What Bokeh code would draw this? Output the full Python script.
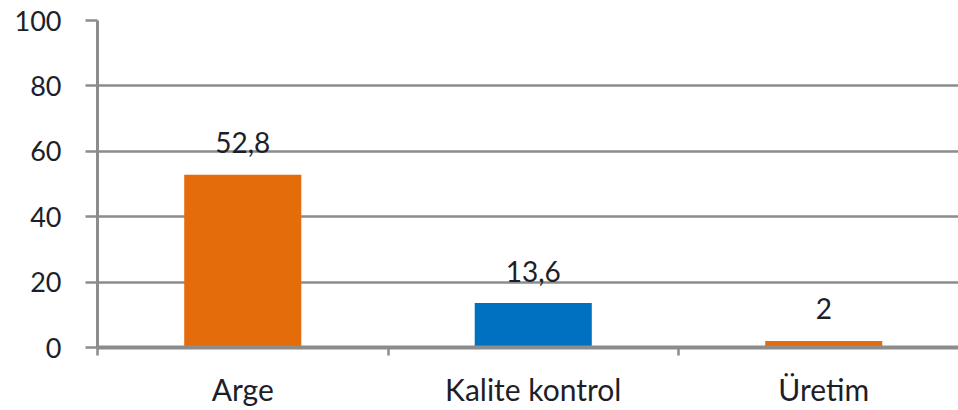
from bokeh.plotting import figure
from bokeh.embed import file_html
from bokeh.resources import INLINE
from bokeh.models import FixedTicker, Range1d
from bokeh.core.properties import value

categories = ["Arge", "Kalite kontrol", "Üretim"]
values = [52.8, 13.6, 2]
colors = ["#E46C0A", "#0070C0", "#E46C0A"]
y_ticks = [0, 20, 40, 60, 80, 100]

FONT = "Lato"
TXT = "#1e1e28"
GRID = "#8c8c8c"

positions = [i + 0.5 for i in range(len(categories))]
labels = [("%g" % v).replace(".", ",") for v in values]

p = figure(
    frame_width=861, frame_height=327,
    min_border_left=97, min_border_right=0, min_border_top=20, min_border_bottom=63,
    x_range=Range1d(0, 861 / 290.5), y_range=Range1d(0, 100),
    output_backend="svg", toolbar_location=None,
)
p.outline_line_color = None
p.background_fill_color = "white"
p.border_fill_color = "white"

p.vbar(x=positions, top=values, width=0.403, color=colors, line_color=None)
p.text(x=positions, y=values, text=labels, text_align="center", text_baseline="alphabetic",
       y_offset=-32, text_font=value(FONT), text_font_size="28px", text_color=TXT)

# y axis
p.yaxis.ticker = FixedTicker(ticks=y_ticks)
p.yaxis.axis_line_color = GRID
p.yaxis.axis_line_width = 3
p.yaxis.major_tick_line_color = GRID
p.yaxis.major_tick_line_width = 2.5
p.yaxis.major_tick_out = 12
p.yaxis.major_tick_in = 0
p.yaxis.minor_tick_line_color = None
p.yaxis.major_label_standoff = 24
p.yaxis.major_label_text_font = FONT
p.yaxis.major_label_text_font_size = "27px"
p.yaxis.major_label_text_color = TXT

# x axis
p.xaxis.ticker = FixedTicker(ticks=positions, minor_ticks=[0, 1, 2, 3])
p.xaxis.major_label_overrides = {pos: c for pos, c in zip(positions, categories)}
p.xaxis.axis_line_color = GRID
p.xaxis.axis_line_width = 4
p.xaxis.major_tick_line_color = None
p.xaxis.major_tick_out = 0
p.xaxis.major_tick_in = 0
p.xaxis.minor_tick_line_color = GRID
p.xaxis.minor_tick_line_width = 2.5
p.xaxis.minor_tick_out = 8
p.xaxis.minor_tick_in = 0
p.xaxis.major_label_standoff = 15
p.xaxis.major_label_text_font = FONT
p.xaxis.major_label_text_font_size = "30px"
p.xaxis.major_label_text_color = TXT

p.xgrid.grid_line_color = None
p.ygrid.ticker = FixedTicker(ticks=y_ticks)
p.ygrid.grid_line_color = GRID
p.ygrid.grid_line_width = 2.5

open("out.html", "w").write(file_html(p, INLINE))
